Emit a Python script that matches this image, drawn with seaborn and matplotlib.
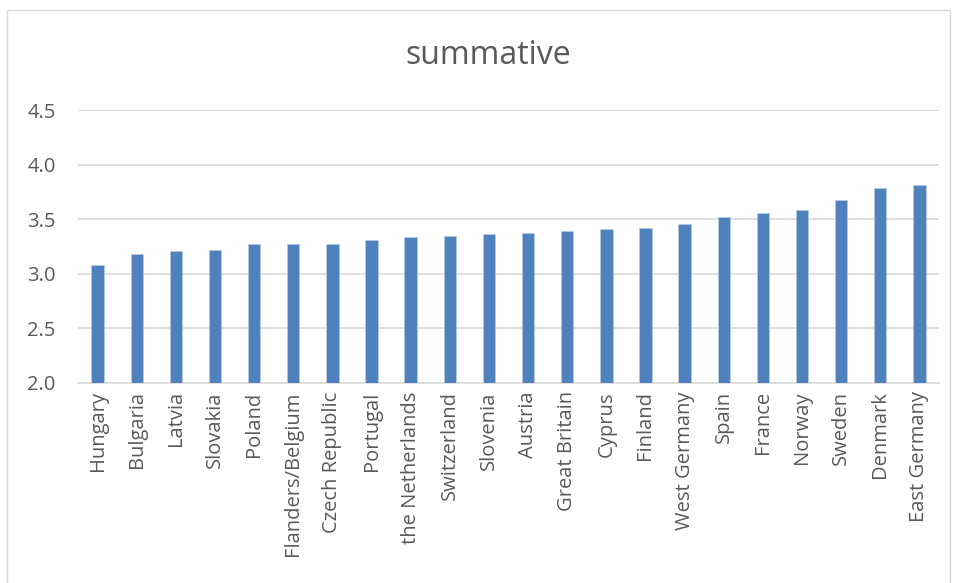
import matplotlib
matplotlib.use("Agg")
import matplotlib.pyplot as plt
import seaborn as sns
from matplotlib.patches import Rectangle

# Dados
countries = ["Hungary", "Bulgaria", "Latvia", "Slovakia", "Poland", "Flanders/Belgium",
             "Czech Republic", "Portugal", "the Netherlands", "Switzerland", "Slovenia",
             "Austria", "Great Britain", "Cyprus", "Finland", "West Germany", "Spain",
             "France", "Norway", "Sweden", "Denmark", "East Germany"]
values = [3.08, 3.18, 3.21, 3.22, 3.27, 3.27, 3.27, 3.31, 3.34, 3.35, 3.36,
          3.37, 3.39, 3.41, 3.42, 3.46, 3.52, 3.56, 3.58, 3.68, 3.79, 3.81]
y_ticks = [2.0, 2.5, 3.0, 3.5, 4.0, 4.5]
title = "summative"

sns.set_theme(style="white")
plt.rcParams["font.family"] = ["Open Sans", "DejaVu Sans"]
text_color = "#595959"
grid_color = "#D9D9D9"

fig = plt.figure(figsize=(9.56, 5.83), dpi=100)
ax = fig.add_axes([78 / 956, 1 - 383 / 583, (939 - 78) / 956, (383 - 110) / 583])

# borda do gráfico
fig.patches.append(Rectangle((7 / 956, -0.01), (950 - 7) / 956, 1 - 10 / 583 + 0.01,
                             transform=fig.transFigure, fill=False,
                             edgecolor=grid_color, linewidth=1))

sns.barplot(x=countries, y=values, color="#4F81BD", width=0.315, saturation=1,
            edgecolor="#B9CDE5", linewidth=0.4, ax=ax, zorder=3)

ax.set_ylim(2.0, 4.5)
ax.set_yticks(y_ticks)
ax.set_yticklabels([f"{t:.1f}" for t in y_ticks], fontsize=14.5, color=text_color)
ax.yaxis.grid(True, color=grid_color, linewidth=1.2, zorder=0)
ax.set_axisbelow(True)
for s in ["top", "right", "left"]:
    ax.spines[s].set_visible(False)
ax.spines["bottom"].set_color(grid_color)
ax.spines["bottom"].set_linewidth(1.2)
ax.tick_params(axis="y", length=0, pad=16)
ax.tick_params(axis="x", length=0, pad=6)
ax.set_xticks(range(len(countries)))
ax.set_xticklabels(countries, rotation=90, fontsize=14.5, color=text_color)
ax.set_xlabel("")
ax.set_ylabel("")
ax.set_xlim(-0.5, len(countries) - 0.5)

fig.text(488 / 956, 1 - 55 / 583, title, ha="center", va="center",
         fontsize=23, color=text_color)

fig.savefig("out.png", dpi=100)
